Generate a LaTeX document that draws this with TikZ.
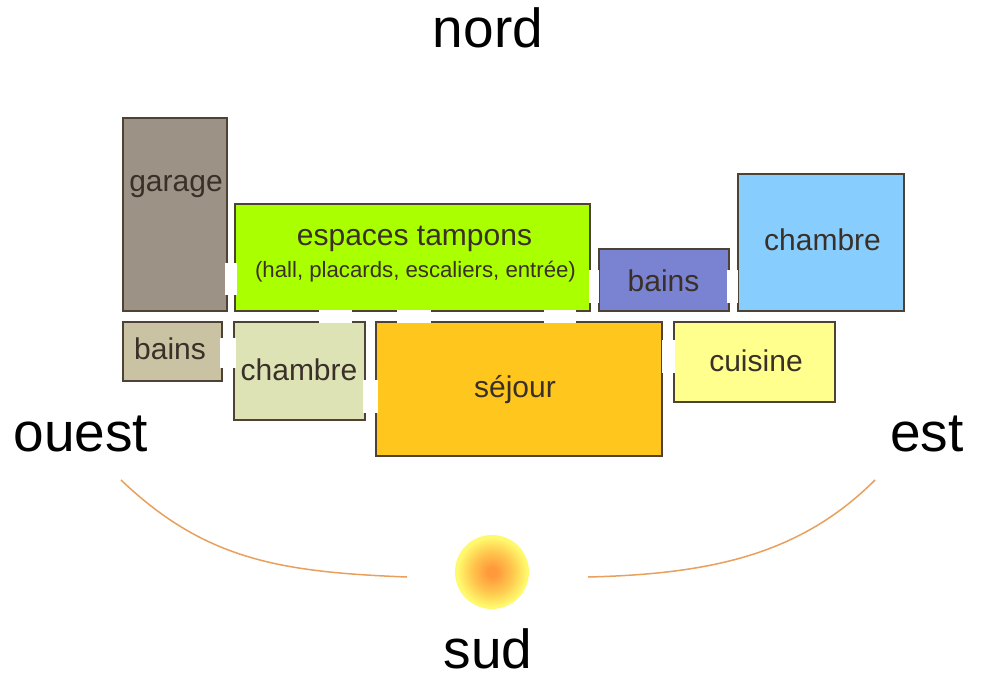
\documentclass[tikz,border=0pt]{standalone}
\usepackage{fontspec}
\setmainfont{Liberation Sans}
\definecolor{wall}{HTML}{4E4234}
\definecolor{ink}{HTML}{3A3028}
\definecolor{arc}{HTML}{E8A05C}
\definecolor{sunA}{HTML}{FF9A3C}
\definecolor{sunB}{HTML}{FFC84E}
\definecolor{sunC}{HTML}{FFF96E}
\pgfdeclareradialshading{sunshade}{\pgfpoint{0bp}{0bp}}{color(0bp)=(sunA); color(3.5bp)=(sunA); color(14bp)=(sunB); color(23.5bp)=(sunC); color(50bp)=(sunC)}
\tikzset{
  x=1pt,y=-1pt,
  room/.style={draw=wall,line width=2pt,inner sep=0pt,outer sep=0pt},
  lab/.style={font=\fontsize{30}{30}\selectfont,text=ink,anchor=base,inner sep=0pt},
  sublab/.style={font=\fontsize{22.2}{23}\selectfont,text=ink,anchor=base,inner sep=0pt},
  compass/.style={font=\fontsize{55}{55}\selectfont,text=black,anchor=base,inner sep=0pt},
  sunpath/.style={draw=arc,line width=1.5pt}
}
\begin{document}
\begin{tikzpicture}
\useasboundingbox (0,0) rectangle (1000,682);
\fill[white] (0,0) rectangle (1000,682);
% rooms
\node[room,fill={rgb,255:red,156;green,146;blue,134},minimum width=103.5pt,minimum height=192.5pt] (garage) at (175.2,214.7) {};
\node[room,fill={rgb,255:red,170;green,255;blue,0},minimum width=355.5pt,minimum height=106.5pt] (tampons) at (412.7,257.7) {};
\node[room,fill={rgb,255:red,122;green,130;blue,210},minimum width=130.5pt,minimum height=61.5pt] (bainsE) at (664.2,280.2) {};
\node[room,fill={rgb,255:red,135;green,206;blue,255},minimum width=166.5pt,minimum height=136.5pt] (chambreE) at (821.2,242.7) {};
\node[room,fill={rgb,255:red,201;green,195;blue,164},minimum width=99.5pt,minimum height=59.5pt] (bainsO) at (172.7,351.7) {};
\node[room,fill={rgb,255:red,221;green,227;blue,181},minimum width=131.5pt,minimum height=98.5pt] (chambreO) at (299.7,371.2) {};
\node[room,fill={rgb,255:red,255;green,198;blue,30},minimum width=286.5pt,minimum height=134.5pt] (sejour) at (519.2,389.2) {};
\node[room,fill={rgb,255:red,255;green,255;blue,142},minimum width=161.5pt,minimum height=80.5pt] (cuisine) at (754.7,362.2) {};
% openings
\fill[white] (225,263) rectangle (237,295);
\fill[white] (220,338) rectangle (236,368);
\fill[white] (363,380) rectangle (378,413);
\fill[white] (319,310) rectangle (352,323);
\fill[white] (397,310) rectangle (431,323);
\fill[white] (544,310) rectangle (576,323);
\fill[white] (589,270) rectangle (599,303);
\fill[white] (727,270) rectangle (738,303);
\fill[white] (662,340) rectangle (675,373);
% labels
\node[lab] (tgarage) at (176,191) {garage};
\node[lab] (ttampons) at (414.5,245) {espaces tampons};
\node[sublab] (tsub) at (415.5,277) {(hall, placards, escaliers, entrée)};
\node[lab] (tbainsE) at (663.5,291) {bains};
\node[lab] (tchambreE) at (822.5,250) {chambre};
\node[lab] (tbainsO) at (170,359) {bains};
\node[lab] (tchambreO) at (299,380) {chambre};
\node[lab] (tsejour) at (515,397) {séjour};
\node[lab] (tcuisine) at (756,371) {cuisine};
\node[compass] (nord) at (488,48) {nord};
\node[compass] (ouest) at (81,451) {ouest};
\node[compass] (est) at (927,451) {est};
\node[compass] (sud) at (488,668) {sud};
% sun
\node[circle,minimum size=74pt,inner sep=0pt,shading=sunshade] (sun) at (492,572) {};
% sun path
\coordinate (oA) at (121,480);
\coordinate (oB) at (407,577);
\coordinate (eA) at (875,480);
\coordinate (eB) at (588,577);
\draw[sunpath] (oA) .. controls (205,560) and (280,572) .. (oB);
\draw[sunpath] (eA) .. controls (800,555) and (710,574) .. (eB);
\end{tikzpicture}
\end{document}
